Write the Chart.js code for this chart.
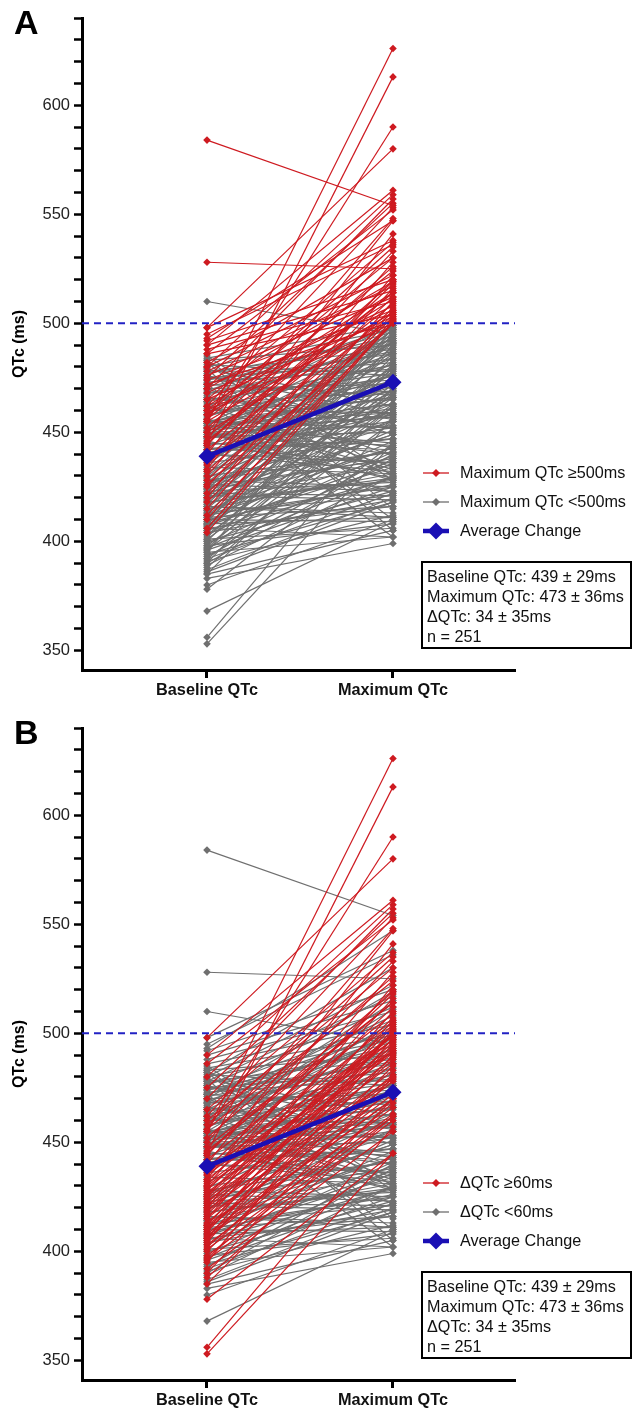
<!DOCTYPE html>
<html>
<head>
<meta charset="utf-8">
<script src="https://cdn.jsdelivr.net/npm/chart.js@4.4.1/dist/chart.umd.min.js"></script>
<style>
  body { margin: 0; background: #fff; }
  .panel { position: relative; width: 641px; }
  #panelA { height: 710px; }
  #panelB { height: 700px; }
</style>
</head>
<body>
<div class="panel" id="panelA"><canvas id="chartA"></canvas></div>
<div class="panel" id="panelB"><canvas id="chartB"></canvas></div>
<script>
// Paired QTc values (ms) per patient
const categories = ["Baseline QTc", "Maximum QTc"];

const baselineQTc = [
  // max >= 500, change < 60
  584, 528, 498, 495, 492, 490, 488, 486, 482, 480, 478, 476, 474, 472, 470, 468, 465, 462, 460, 458, 455, 450, 493,
  // max >= 500, change >= 60
  455, 445, 455, 498, 490, 480, 470, 475, 462, 486, 450, 440, 465, 458, 444, 430, 452, 420, 435, 438,
  425, 446, 432, 415, 442, 428, 410, 436, 422, 418, 406, 404, 448, 412, 426, 460, 433, 445, 456,
  // max < 500, change >= 60
  353, 356, 378, 385, 388, 390, 392, 395, 397, 400, 402, 405, 407, 409, 411, 413, 415, 417, 419, 421,
  423, 425, 427, 429, 431, 433, 435, 437, 412, 398, 403, 408, 416, 420, 424, 430, 396, 401, 406, 410,
  // max < 500, change < 60
  510, 368, 383, 385, 387, 389, 391, 393, 394, 396, 398,
  399, 400, 401, 403, 404, 405, 406, 407, 408, 409, 410, 411, 412, 413, 414, 415, 416, 417, 418, 419,
  420, 421, 422, 423, 424, 425, 426, 427, 428, 429,
  440, 441, 442, 443, 444, 445, 446, 447, 448, 449, 450, 451, 452, 453, 454, 455, 456,
  447, 448, 449, 450, 451, 452, 453, 454, 455, 456, 457, 458, 459, 460, 461, 462, 463, 464, 465, 466,
  467, 468, 469, 470, 471, 472, 473, 474, 475, 476, 477, 478, 480, 481, 482, 484, 485, 479, 483,
  448, 450, 452, 454, 456, 458, 460, 462, 464, 466, 468, 470, 472, 474, 476, 478,
  442, 440, 438, 436, 434, 432, 430, 428, 426, 424, 422, 420, 418, 416, 414, 412, 410, 408, 406,
  397, 395, 392, 390, 386, 380,
  479, 483, 472, 464, 450, 460, 454, 448, 444, 442, 440
];

const maximumQTc = [
  554, 525, 538, 536, 520, 515, 510, 504, 530, 522, 517, 512, 506, 501, 519, 508, 503, 514, 500, 511, 505, 502, 547,
  626, 613, 590, 580, 561, 559, 557, 555, 553, 552, 548, 547, 537, 535, 533, 528, 526, 522, 520, 518,
  516, 514, 512, 510, 509, 507, 506, 505, 504, 503, 502, 501, 514, 500, 500, 530, 541, 519, 524,
  445, 457, 445, 470, 462, 480, 455, 498, 468, 485, 475, 490, 470, 495, 478, 488, 483, 496, 480, 492,
  486, 499, 491, 497, 494, 499, 497, 499, 474, 462, 466, 472, 479, 489, 493, 492, 460, 463, 470, 481,
  495, 409, 399, 405, 420, 430, 412, 440, 418, 425, 408,
  436, 423, 406, 441, 419, 429, 402, 437, 411, 446, 426, 416, 439, 421, 451, 431, 413, 443, 428, 456,
  435, 419, 449, 427, 461, 438, 423, 453, 441, 466,
  432, 447, 459, 436, 471, 442, 429, 463, 450, 476, 440, 457, 469, 445, 481, 452, 433,
  474, 458, 491, 453, 469, 484, 459, 493, 466, 443, 486, 476, 499, 465, 481, 493, 469, 491, 477, 452,
  489, 484, 498, 472, 487, 496, 479, 494, 482, 458, 492, 488, 497, 476, 415, 499, 430, 462, 490,
  444, 428, 463, 476, 431, 471, 459, 434, 481, 456, 474, 439, 467, 486, 449, 478,
  452, 436, 468, 447, 431, 463, 441, 425, 455, 438, 421, 449, 429, 411, 443, 425, 409, 434, 416,
  430, 402, 422, 438, 418, 410,
  405, 428, 410, 402, 422, 473, 466, 461, 455, 447, 458
];

const averageQTc = [439, 473];
const yLabelValues = [350, 400, 450, 500, 550, 600];
const limitQTc = 500;
const limitDelta = 60;
const summaryLines = [
  "Baseline QTc: 439 \u00b1 29ms",
  "Maximum QTc: 473 \u00b1 36ms",
  "\u0394QTc: 34 \u00b1 35ms",
  "n = 251"
];

const RED = "#CE1A20";
const GREY = "#6F6F6F";
const BLUE = "#1A0FB4";
const FONT = "'Liberation Sans', Arial, Helvetica, sans-serif";

Chart.defaults.font.family = FONT;
Chart.defaults.color = "#111";

// dashed 500 ms line, legend, stats box and panel letter
const decorations = {
  id: "decorations",
  afterDatasetsDraw(chart, args, opts) {
    const { ctx, chartArea, scales } = chart;
    const yy = scales.y.getPixelForValue(limitQTc);
    ctx.save();
    ctx.strokeStyle = "#2222C4";
    ctx.lineWidth = 2;
    ctx.setLineDash([7, 5]);
    ctx.beginPath();
    ctx.moveTo(chartArea.left, yy);
    ctx.lineTo(chartArea.right, yy);
    ctx.stroke();
    ctx.restore();
  },
  afterDraw(chart, args, opts) {
    const ctx = chart.ctx;
    ctx.save();
    ctx.fillStyle = "#000";
    ctx.font = "bold 34px " + FONT;
    ctx.textBaseline = "top";
    ctx.fillText(opts.letter, 14, 8);

    // legend
    const rows = [473, 502, 531];
    opts.legend.forEach((item, i) => {
      const y = rows[i];
      ctx.strokeStyle = item.color;
      ctx.fillStyle = item.color;
      ctx.lineWidth = item.big ? 4.5 : 1.3;
      ctx.beginPath();
      ctx.moveTo(423, y);
      ctx.lineTo(449, y);
      ctx.stroke();
      const r = item.big ? 8.5 : 4;
      ctx.beginPath();
      ctx.moveTo(436, y - r);
      ctx.lineTo(436 + r, y);
      ctx.lineTo(436, y + r);
      ctx.lineTo(436 - r, y);
      ctx.closePath();
      ctx.fill();
      ctx.fillStyle = "#111";
      ctx.font = "16.2px " + FONT;
      ctx.textBaseline = "middle";
      ctx.fillText(item.label, 460, y + 1);
    });

    // summary box
    ctx.strokeStyle = "#000";
    ctx.lineWidth = 2;
    ctx.strokeRect(422, 562, 209, 86);
    ctx.fillStyle = "#111";
    ctx.font = "16.2px " + FONT;
    ctx.textBaseline = "middle";
    summaryLines.forEach((t, i) => ctx.fillText(t, 427, 578 + i * 20));
    ctx.restore();
  }
};

function pairColor(mode, i) {
  if (mode === "max") return maximumQTc[i] >= limitQTc ? RED : GREY;
  return maximumQTc[i] - baselineQTc[i] >= limitDelta ? RED : GREY;
}

function makePanel(canvasId, letter, mode, legendLabels, xHeight) {
  const pairs = baselineQTc.map((b, i) => {
    const c = pairColor(mode, i);
    return {
      data: [{ x: 0, y: b }, { x: 1, y: maximumQTc[i] }],
      borderColor: c,
      backgroundColor: c,
      borderWidth: 1.2,
      pointStyle: "rectRot",
      pointRadius: 3.8,
      pointBorderWidth: 0,
      order: c === RED ? 1 : 2
    };
  });
  pairs.push({
    data: [{ x: 0, y: averageQTc[0] }, { x: 1, y: averageQTc[1] }],
    borderColor: BLUE,
    backgroundColor: BLUE,
    borderWidth: 4.5,
    pointStyle: "rectRot",
    pointRadius: 8.5,
    pointBorderWidth: 0,
    order: 0
  });

  new Chart(document.getElementById(canvasId), {
    type: "line",
    data: { datasets: pairs },
    options: {
      responsive: true,
      maintainAspectRatio: false,
      animation: false,
      events: [],
      layout: { padding: { top: 18, right: 126, left: 0, bottom: 0 } },
      plugins: {
        legend: { display: false },
        tooltip: { enabled: false },
        decorations: {
          letter: letter,
          legend: [
            { label: legendLabels[0], color: RED },
            { label: legendLabels[1], color: GREY },
            { label: "Average Change", color: BLUE, big: true }
          ]
        }
      },
      scales: {
        x: {
          type: "linear",
          min: -0.672,
          max: 1.656,
          afterBuildTicks: (s) => { s.ticks = [{ value: 0 }, { value: 1 }]; },
          afterFit: (s) => { s.height = xHeight; },
          ticks: {
            autoSkip: false,
            maxRotation: 0,
            padding: 3,
            color: "#111",
            font: { size: 16.3, weight: "bold" },
            callback: (v, i) => categories[i]
          },
          grid: { drawOnChartArea: false, tickLength: 8, tickWidth: 3, tickColor: "#000" },
          border: { display: true, color: "#000", width: 3 }
        },
        y: {
          type: "linear",
          min: 341,
          max: 640,
          afterBuildTicks: (s) => {
            const t = [];
            for (let v = 350; v <= 640; v += 10) t.push({ value: v });
            s.ticks = t;
          },
          afterFit: (s) => { s.width = 82; },
          ticks: {
            autoSkip: false,
            padding: 4,
            color: "#222",
            font: { size: 16.5 },
            callback: (v) => (yLabelValues.includes(v) ? v : "")
          },
          grid: { drawOnChartArea: false, tickLength: 8, tickWidth: 2.5, tickColor: "#000" },
          border: { display: true, color: "#000", width: 3 },
          title: {
            display: true,
            text: "QTc (ms)",
            color: "#000",
            font: { size: 16, weight: "bold" },
            padding: { top: 10, bottom: 0 }
          }
        }
      }
    },
    plugins: [decorations]
  });
}

makePanel("chartA", "A", "max", ["Maximum QTc \u2265500ms", "Maximum QTc <500ms"], 40);
makePanel("chartB", "B", "delta", ["\u0394QTc \u226560ms", "\u0394QTc <60ms"], 30);
</script>
</body>
</html>
